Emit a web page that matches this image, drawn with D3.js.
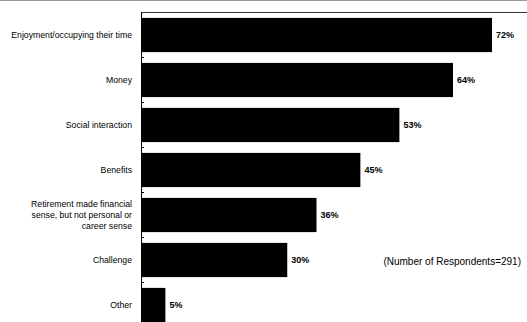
<!DOCTYPE html>
<html>
<head>
<meta charset="utf-8">
<script src="https://cdn.jsdelivr.net/npm/d3@7"></script>
<style>
  html, body { margin: 0; padding: 0; background: #fff; }
  svg { display: block; }
  .cat { font-family: "Liberation Sans", Arial, sans-serif; font-size: 8.7px; fill: #000; }
  .val { font-family: "Liberation Sans", Arial, sans-serif; font-size: 9px; font-weight: bold; fill: #000; }
  .note { font-family: "Liberation Sans", Arial, sans-serif; font-size: 10px; fill: #000; }
</style>
</head>
<body>
<svg id="chart" width="527" height="322"></svg>
<script>
// Reasons for continuing to work, share of respondents
const categories = [
  "Enjoyment/occupying their time",
  "Money",
  "Social interaction",
  "Benefits",
  "Retirement made financial\nsense, but not personal or\ncareer sense",
  "Challenge",
  "Other"
];
const values = [72, 64, 53, 45, 36, 30, 5];
const respondentsNote = "(Number of Respondents=291)";

const W = 527, H = 322;
const margin = { left: 141, top: 12.5 };
const bandStep = 45;

const svg = d3.select("#chart");

const x = d3.scaleLinear()
  .domain([0, 100])
  .range([margin.left, margin.left + 487.5]);

const y = d3.scaleBand()
  .domain(categories)
  .range([margin.top, margin.top + bandStep * categories.length])
  .paddingInner(0.24)
  .paddingOuter(0.12);

// faint rule along the top edge
svg.append("line")
  .attr("x1", 0).attr("x2", W)
  .attr("y1", 0.5).attr("y2", 0.5)
  .attr("stroke", "#999").attr("stroke-width", 1);

// plot area top border
svg.append("line")
  .attr("x1", margin.left).attr("x2", W)
  .attr("y1", margin.top).attr("y2", margin.top)
  .attr("stroke", "#333").attr("stroke-width", 1);

// bars
svg.append("g").selectAll("rect")
  .data(values)
  .join("rect")
  .attr("x", x(0))
  .attr("y", (d, i) => y(categories[i]))
  .attr("width", d => x(d) - x(0))
  .attr("height", y.bandwidth())
  .attr("fill", "#000");

// value labels
svg.append("g").selectAll("text")
  .data(values)
  .join("text")
  .attr("class", "val")
  .attr("x", d => x(d) + 4)
  .attr("y", (d, i) => y(categories[i]) + y.bandwidth() / 2)
  .attr("dy", "0.35em")
  .text(d => d + "%");

// category axis with ticks between bands
const axisG = svg.append("g");
axisG.append("line")
  .attr("x1", margin.left + 0.5).attr("x2", margin.left + 0.5)
  .attr("y1", margin.top).attr("y2", H)
  .attr("stroke", "#000");

const boundaries = d3.range(1, categories.length + 1).map(i => margin.top + i * bandStep);
axisG.selectAll("line.tick")
  .data(boundaries)
  .join("line")
  .attr("class", "tick")
  .attr("x1", margin.left).attr("x2", margin.left + 3)
  .attr("y1", d => d).attr("y2", d => d)
  .attr("stroke", "#000");

// category labels, right-aligned, multi-line where needed
const labels = svg.append("g").selectAll("text")
  .data(categories)
  .join("text")
  .attr("class", "cat")
  .attr("text-anchor", "end")
  .attr("x", margin.left - 9)
  .attr("y", d => y(d) + y.bandwidth() / 2);

labels.each(function(d) {
  const lines = d.split("\n");
  const lh = 11;
  const t = d3.select(this);
  lines.forEach((ln, k) => {
    t.append("tspan")
      .attr("x", margin.left - 9)
      .attr("dy", k === 0 ? ((-(lines.length - 1) * lh / 2) / 8.7 + 0.35) + "em" : lh + "px")
      .text(ln);
  });
});

// respondents note
svg.append("text")
  .attr("class", "note")
  .attr("x", 521)
  .attr("y", 265)
  .attr("text-anchor", "end")
  .text(respondentsNote);
</script>
</body>
</html>
